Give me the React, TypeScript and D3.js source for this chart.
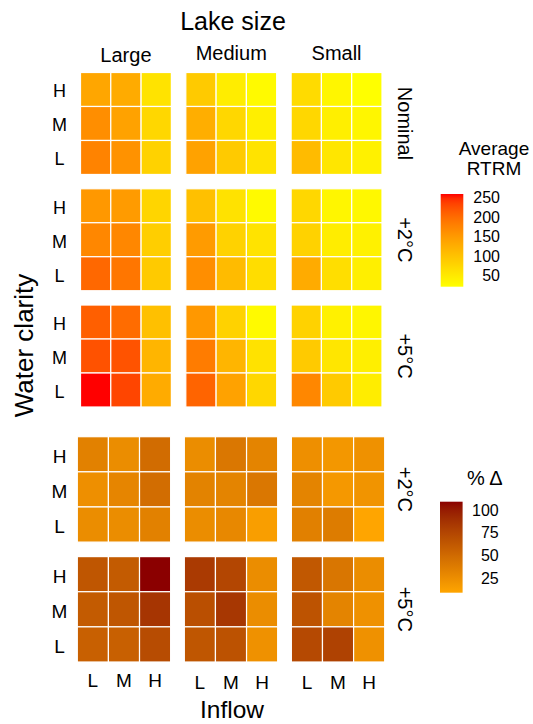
import React from "react";
import * as d3 from "d3";

const W = 533;
const H = 724;
const FONT = "'Liberation Sans', Arial, sans-serif";

const lakeSizes = ["Large", "Medium", "Small"];
const inflowLevels = ["L", "M", "H"];
const clarityLevels = ["H", "M", "L"]; // top to bottom
const rtrmScenarios = ["Nominal", "+2°C", "+5°C"];
const deltaScenarios = ["+2°C", "+5°C"];

// Average RTRM, per lake size: rows clarity H,M,L ; columns inflow L,M,H
const rtrmNominal = [
  [[136, 130, 58], [164, 140, 74], [176, 159, 80]],
  [[91, 46, 28], [126, 74, 43], [140, 91, 58]],
  [[69, 34, 22], [74, 43, 34], [110, 55, 41]],
];
const rtrmPlus2 = [
  [[152, 148, 77], [171, 171, 86], [204, 190, 91]],
  [[103, 60, 28], [148, 80, 58], [164, 110, 67]],
  [[74, 34, 31], [80, 46, 41], [130, 65, 43]],
];
const rtrmPlus5 = [
  [[212, 200, 103], [223, 222, 117], [259, 233, 130]],
  [[152, 80, 28], [183, 117, 60], [207, 140, 74]],
  [[80, 41, 34], [91, 55, 43], [171, 91, 46]],
];

// % change from nominal
const deltaPlus2 = [
  [[34, 26, 49], [24, 31, 48], [26, 26, 34]],
  [[26, 41, 32], [33, 32, 41], [26, 29, 14]],
  [[24, 19, 23], [32, 18, 21], [35, 38, 9]],
];
const deltaPlus5 = [
  [[64, 61, 109.5], [61, 64, 86], [57, 57, 71]],
  [[83, 75, 26], [69, 85, 26], [64, 67, 23]],
  [[63, 42, 26], [66, 32, 23], [73, 78, 23]],
];

const rtrmTicks = [50, 100, 150, 200, 250];
const deltaTicks = [25, 50, 75, 100];

type Cell = { row: string; size: string; clarity: string; inflow: string; value: number };

function flatten(rows: string[], blocks: number[][][][]): Cell[] {
  const out: Cell[] = [];
  rows.forEach((row, ri) =>
    lakeSizes.forEach((size, si) =>
      clarityLevels.forEach((clarity, ci) =>
        inflowLevels.forEach((inflow, ii) =>
          out.push({ row, size, clarity, inflow, value: blocks[ri][si][ci][ii] })
        )
      )
    )
  );
  return out;
}

const rtrmCells = flatten(rtrmScenarios, [rtrmNominal, rtrmPlus2, rtrmPlus5]);
const deltaCells = flatten(deltaScenarios, [deltaPlus2, deltaPlus5]);

type PanelProps = {
  cells: Cell[];
  rows: string[];
  xRange: [number, number];
  xPad: number;
  yRange: [number, number];
  yPad: number;
  color: (v: number) => string;
  showTop: boolean;
  showBottom: boolean;
  labelSize: number;
};

const FacetGrid = ({ cells, rows, xRange, xPad, yRange, yPad, color, showTop, showBottom, labelSize }: PanelProps) => {
  const colScale = d3.scaleBand().domain(lakeSizes).range(xRange).paddingInner(xPad);
  const rowScale = d3.scaleBand().domain(rows).range(yRange).paddingInner(yPad);
  const xCell = d3.scaleBand().domain(inflowLevels).range([0, colScale.bandwidth()]);
  const yCell = d3.scaleBand().domain(clarityLevels).range([0, rowScale.bandwidth()]);

  return (
    <g>
      {cells.map((d, i) => (
        <rect
          key={i}
          x={colScale(d.size)! + xCell(d.inflow)!}
          y={rowScale(d.row)! + yCell(d.clarity)!}
          width={xCell.bandwidth()}
          height={yCell.bandwidth()}
          fill={color(d.value)}
          stroke="white"
          strokeWidth={1.2}
        />
      ))}
      {/* clarity labels on the left */}
      {rows.map((r) =>
        clarityLevels.map((c) => (
          <text
            key={r + c}
            x={59.5}
            y={rowScale(r)! + yCell(c)! + yCell.bandwidth() / 2 + 2}
            textAnchor="middle"
            dominantBaseline="central"
            fontSize={labelSize}
          >
            {c}
          </text>
        ))
      )}
      {/* scenario strips on the right */}
      {rows.map((r) => (
        <text
          key={r}
          transform={`translate(398,${rowScale(r)! + rowScale.bandwidth() / 2}) rotate(90)`}
          textAnchor="middle"
          fontSize={20}
        >
          {r}
        </text>
      ))}
      {showTop &&
        lakeSizes.map((s) => (
          <text
            key={s}
            x={colScale(s)! + colScale.bandwidth() / 2}
            y={s === "Large" ? 62 : 59.5}
            textAnchor="middle"
            fontSize={20}
          >
            {s}
          </text>
        ))}
      {showBottom &&
        lakeSizes.map((s) =>
          inflowLevels.map((f) => (
            <text
              key={s + f}
              x={colScale(s)! + xCell(f)! + xCell.bandwidth() / 2}
              y={s === "Large" ? 686.5 : 688.5}
              textAnchor="middle"
              fontSize={labelSize}
            >
              {f}
            </text>
          ))
        )}
    </g>
  );
};

type LegendProps = {
  id: string;
  x: number;
  y0: number;
  y1: number;
  domain: [number, number];
  interp: (t: number) => string;
  ticks: number[];
  labelX: number;
};

const ColorBar = ({ id, x, y0, y1, domain, interp, ticks, labelX }: LegendProps) => {
  const yScale = d3.scaleLinear().domain(domain).range([y1, y0]);
  const stops = d3.range(0, 1.0001, 0.05);
  return (
    <g>
      <defs>
        <linearGradient id={id} x1="0" y1="1" x2="0" y2="0">
          {stops.map((t) => (
            <stop key={t} offset={t} stopColor={interp(t)} />
          ))}
        </linearGradient>
      </defs>
      <rect x={x} y={y0} width={22.6} height={y1 - y0} fill={`url(#${id})`} />
      {ticks.map((t) => (
        <text key={t} x={labelX} y={yScale(t)} textAnchor="end" dominantBaseline="central" fontSize={16}>
          {t}
        </text>
      ))}
    </g>
  );
};

export default function App() {
  const rtrmDomain = d3.extent(rtrmCells, (d) => d.value) as [number, number];
  const deltaDomain = d3.extent(deltaCells, (d) => d.value) as [number, number];
  const rtrmInterp = d3.interpolateLab("yellow", "red");
  const deltaInterp = d3.interpolateLab("orange", "darkred");
  const rtrmColor = d3.scaleSequential(rtrmInterp).domain(rtrmDomain);
  const deltaColor = d3.scaleSequential(deltaInterp).domain(deltaDomain);

  return (
    <svg
      width={W}
      height={H}
      style={{ position: "absolute", left: 0, top: 0, background: "white" }}
      fontFamily={FONT}
      fill="#000"
    >
      <text x={233} y={30} textAnchor="middle" fontSize={25}>
        Lake size
      </text>
      <text transform="translate(33,345.5) rotate(-90)" textAnchor="middle" fontSize={26}>
        Water clarity
      </text>
      <text x={232} y={718} textAnchor="middle" fontSize={24.5}>
        Inflow
      </text>

      <FacetGrid
        cells={rtrmCells}
        rows={rtrmScenarios}
        xRange={[80.5, 382]}
        xPad={0.137}
        yRange={[72.5, 407]}
        yPad={0.123}
        color={rtrmColor}
        showTop={true}
        showBottom={false}
        labelSize={18}
      />
      <FacetGrid
        cells={deltaCells}
        rows={deltaScenarios}
        xRange={[77.3, 384.7]}
        xPad={0.128}
        yRange={[436.7, 662]}
        yPad={0.121}
        color={deltaColor}
        showTop={false}
        showBottom={true}
        labelSize={19}
      />

      <text x={494} y={155} textAnchor="middle" fontSize={19}>
        Average
      </text>
      <text x={494} y={175} textAnchor="middle" fontSize={19}>
        RTRM
      </text>
      <ColorBar
        id="grad-rtrm"
        x={440.7}
        y0={194}
        y1={286.7}
        domain={rtrmDomain}
        interp={rtrmInterp}
        ticks={rtrmTicks}
        labelX={500}
      />

      <text x={484.7} y={485} textAnchor="middle" fontSize={20}>
        % Δ
      </text>
      <ColorBar
        id="grad-delta"
        x={440}
        y0={501.7}
        y1={592.7}
        domain={deltaDomain}
        interp={deltaInterp}
        ticks={deltaTicks}
        labelX={498.7}
      />
    </svg>
  );
}
